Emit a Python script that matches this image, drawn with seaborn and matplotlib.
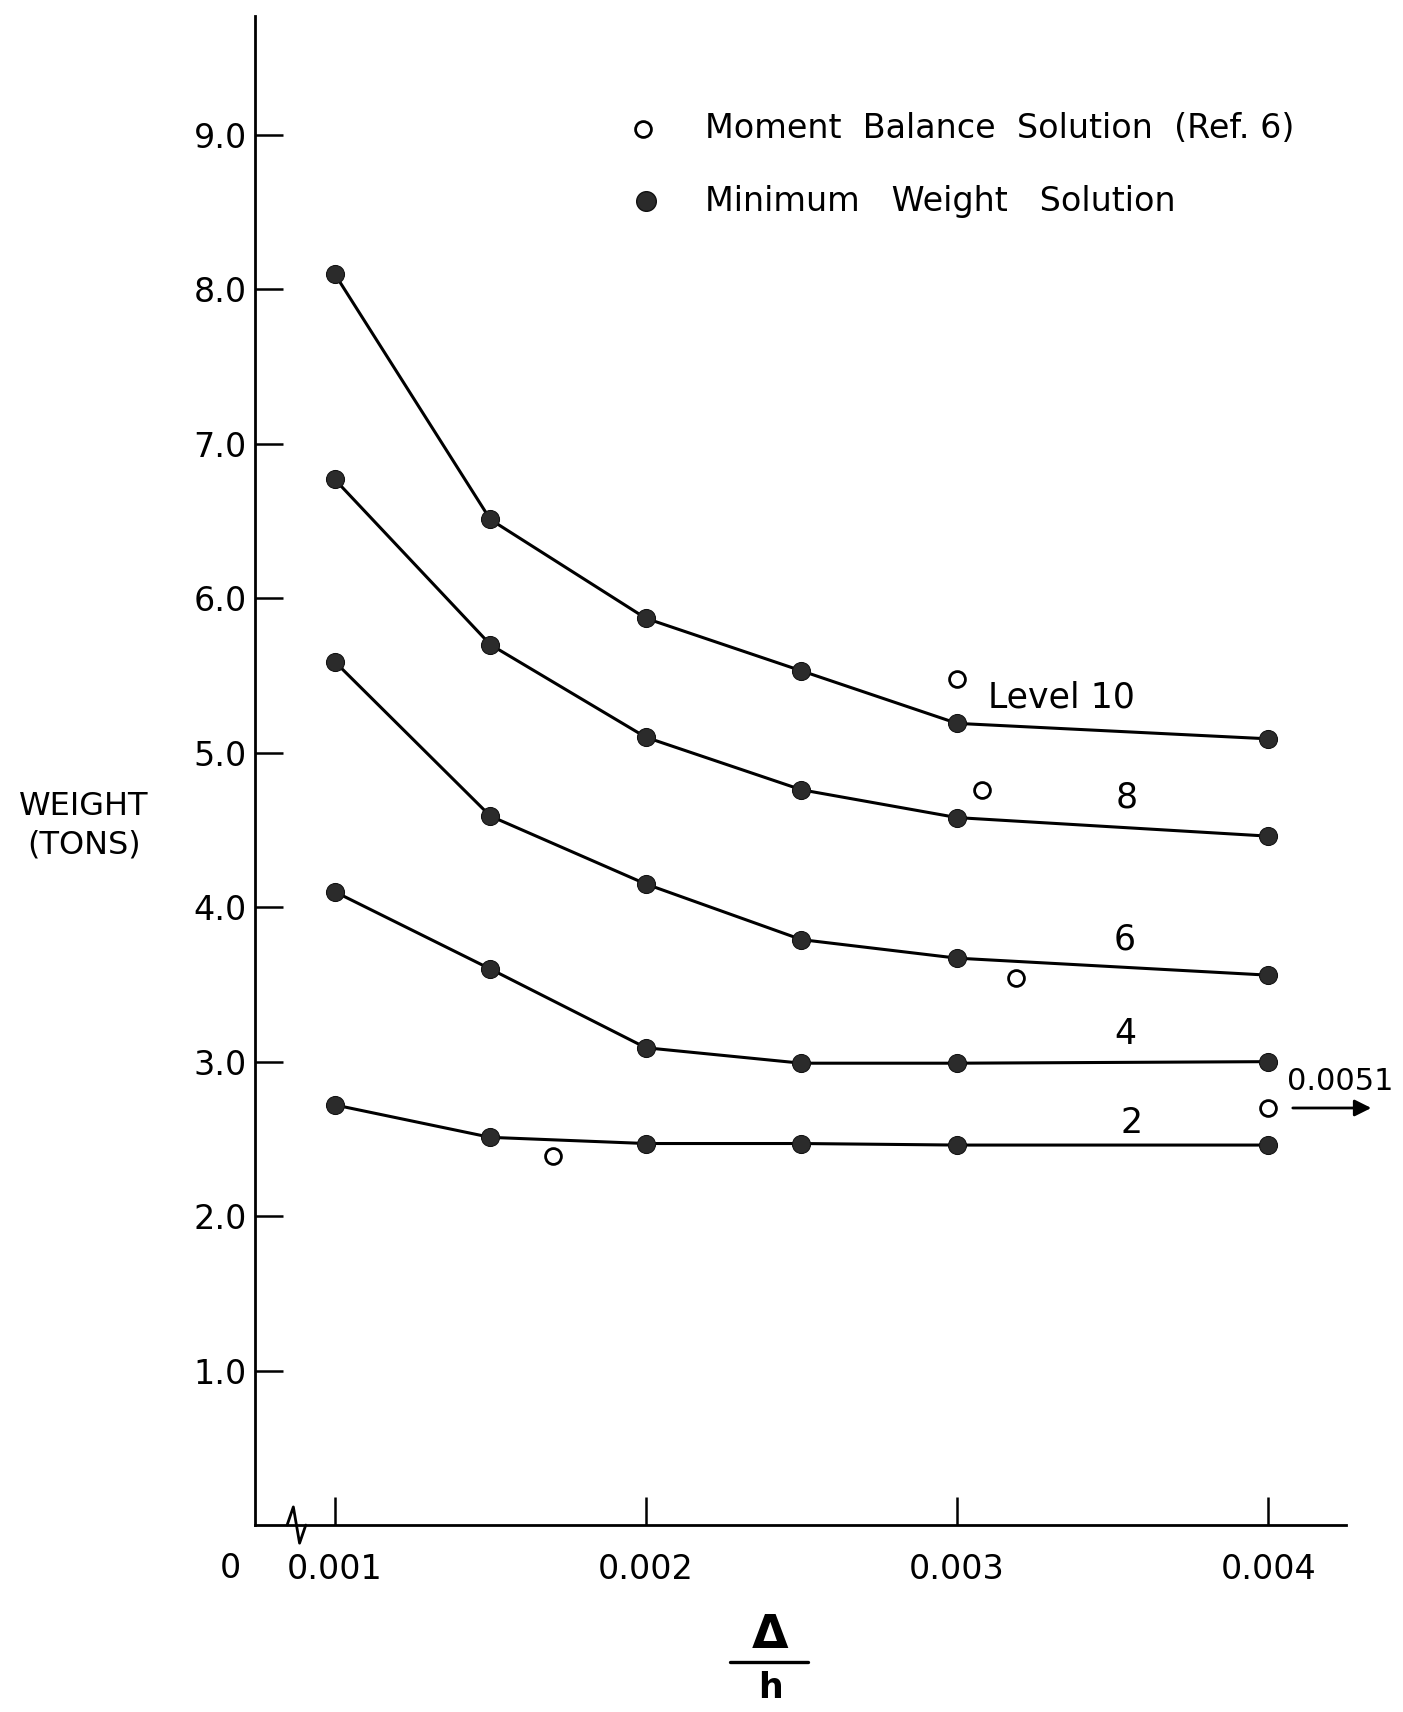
import numpy as np
import pandas as pd
import matplotlib
matplotlib.use('Agg')
import matplotlib.pyplot as plt
import seaborn as sns
from matplotlib.lines import Line2D

sns.set_style('white')
plt.rcParams['font.family'] = ['DejaVu Sans']
plt.rcParams['text.color'] = 'black'

# data
drift = [0.001, 0.0015, 0.002, 0.0025, 0.003, 0.004]
levels = ['10', '8', '6', '4', '2']
w_level10 = [8.10, 6.51, 5.87, 5.53, 5.19, 5.09]
w_level8 = [6.77, 5.70, 5.10, 4.76, 4.58, 4.46]
w_level6 = [5.59, 4.59, 4.15, 3.79, 3.67, 3.56]
w_level4 = [4.10, 3.60, 3.09, 2.99, 2.99, 3.00]
w_level2 = [2.72, 2.51, 2.47, 2.47, 2.46, 2.46]

# moment balance solution (Ref. 6), open circles
mb_drift = [0.003, 0.00308, 0.00319, 0.0017, 0.004]
mb_weight = [5.48, 4.76, 3.54, 2.39, 2.70]

yticks = [1.0, 2.0, 3.0, 4.0, 5.0, 6.0, 7.0, 8.0, 9.0]
xticks = [0.001, 0.002, 0.003, 0.004]
xticklabels = ['0.001', '0.002', '0.003', '0.004']

rows = []
for lv, ws in zip(levels, [w_level10, w_level8, w_level6, w_level4, w_level2]):
    for d, w in zip(drift, ws):
        rows.append({'level': lv, 'drift': d, 'weight': w})
df = pd.DataFrame(rows)
mb = pd.DataFrame({'drift': mb_drift, 'weight': mb_weight})

fig = plt.figure(figsize=(14.03, 17.12), dpi=100)
ax = fig.add_axes([0.1818, 0.1092, 0.9594 - 0.1818, 0.9907 - 0.1092])

sns.lineplot(data=df, x='drift', y='weight', hue='level', palette=['black'] * 5,
             marker='o', markersize=13, markerfacecolor='#2b2b2b', markeredgecolor='#111111',
             linewidth=2.2, legend=False, ax=ax, sort=False)
sns.scatterplot(data=mb, x='drift', y='weight', s=130, facecolor='white',
                edgecolor='black', linewidth=2.0, ax=ax, zorder=5)

ax.set_xlim(0.000744, 0.00425)
ax.set_ylim(0, 9.77)
ax.set_xticks(xticks)
ax.set_xticklabels(xticklabels)
ax.set_yticks(yticks)
ax.set_yticklabels([f'{v:.1f}' for v in yticks])
ax.tick_params(axis='both', direction='in', length=20, width=1.8, labelsize=24,
               colors='black', bottom=True, left=True)
ax.tick_params(axis='y', pad=6)
ax.tick_params(axis='x', pad=20)
ax.set_xlabel('')
ax.set_ylabel('')
for s in ['top', 'right']:
    ax.spines[s].set_visible(False)
for s in ['left', 'bottom']:
    ax.spines[s].set_linewidth(2.0)
    ax.spines[s].set_color('black')

# axis break on x
tr = ax.get_xaxis_transform()
bx = 0.000877
ax.plot([bx - 0.00003, bx - 0.00001, bx + 0.00001, bx + 0.00003],
        [0.0, 0.012, -0.012, 0.0], transform=tr, color='black', linewidth=2,
        clip_on=False)

# curve labels
ax.text(0.0031, 5.36, 'Level 10', fontsize=25, ha='left', va='center')
ax.text(0.003545, 4.71, '8', fontsize=25, ha='center', va='center')
ax.text(0.00354, 3.79, '6', fontsize=25, ha='center', va='center')
ax.text(0.00354, 3.18, '4', fontsize=25, ha='center', va='center')
ax.text(0.00356, 2.60, '2', fontsize=25, ha='center', va='center')
ax.annotate('', xy=(0.00434, 2.70), xytext=(0.00407, 2.70),
            arrowprops=dict(arrowstyle='-|>', color='black', lw=2, mutation_scale=25),
            annotation_clip=False)
ax.text(0.00406, 2.87, '0.0051', fontsize=22, ha='left', va='center')

# legend
ax.scatter([0.00199], [9.04], s=130, facecolor='white', edgecolor='black', linewidth=2.0)
ax.scatter([0.002], [8.57], s=200, facecolor='#2b2b2b', edgecolor='#111111')
ax.text(0.00219, 9.04, 'Moment  Balance  Solution  (Ref. 6)', fontsize=24, va='center')
ax.text(0.00219, 8.57, 'Minimum   Weight   Solution', fontsize=24, va='center')

# axis titles
fig.text(230 / 1403, 1 - 1569 / 1712, '0', fontsize=24, ha='center', va='center')
fig.text(84 / 1403, 1 - 826 / 1712, 'WEIGHT\n(TONS)', fontsize=23, ha='center',
         va='center', linespacing=1.3)
fig.text(770 / 1403, 1 - 1636 / 1712, 'Δ', fontsize=34, ha='center', va='center',
         fontweight='semibold')
fig.add_artist(Line2D([730 / 1403, 808 / 1403], [1 - 1662 / 1712, 1 - 1662 / 1712],
                      color='black', linewidth=2.4))
fig.text(770 / 1403, 1 - 1688 / 1712, 'h', fontsize=25, ha='center', va='center',
         fontweight='bold')

fig.savefig('out.png', dpi=100, facecolor='white')
